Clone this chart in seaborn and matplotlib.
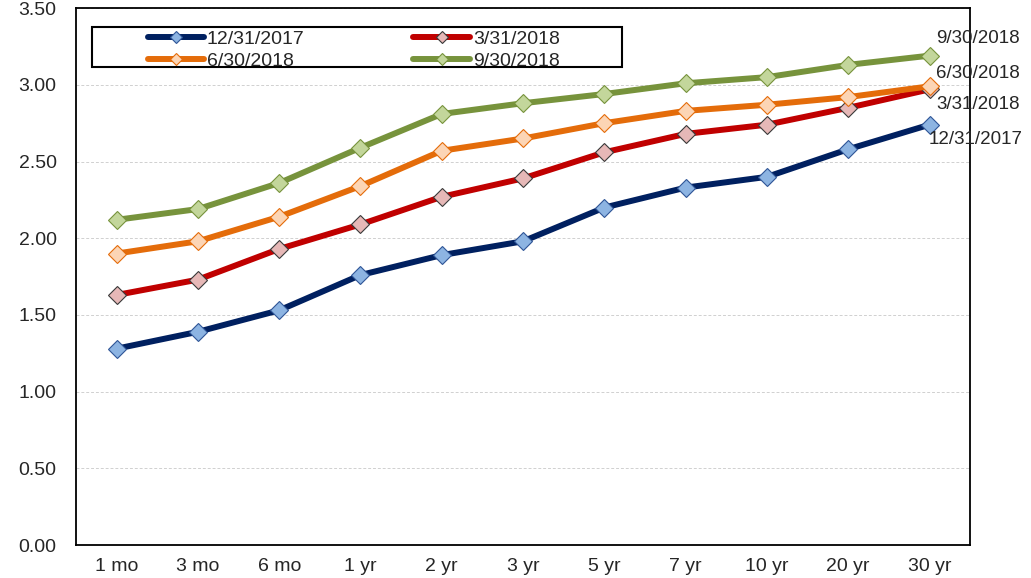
import numpy as np
import pandas as pd
import seaborn as sns
import matplotlib.pyplot as plt
from matplotlib.patches import Rectangle

tenors = ["1 mo", "3 mo", "6 mo", "1 yr", "2 yr", "3 yr", "5 yr", "7 yr", "10 yr", "20 yr", "30 yr"]

dec_2017 = [1.28, 1.39, 1.53, 1.76, 1.89, 1.98, 2.20, 2.33, 2.40, 2.58, 2.74]
mar_2018 = [1.63, 1.73, 1.93, 2.09, 2.27, 2.39, 2.56, 2.68, 2.74, 2.85, 2.97]
jun_2018 = [1.90, 1.98, 2.14, 2.34, 2.57, 2.65, 2.75, 2.83, 2.87, 2.92, 2.99]
sep_2018 = [2.12, 2.19, 2.36, 2.59, 2.81, 2.88, 2.94, 3.01, 3.05, 3.13, 3.19]

series_names = ["12/31/2017", "3/31/2018", "6/30/2018", "9/30/2018"]
series_vals = [dec_2017, mar_2018, jun_2018, sep_2018]

line_colors = ["#002060", "#C00000", "#E46C0A", "#77933C"]
face_colors = ["#8DB4E2", "#E6B8B7", "#FCD5B5", "#C3D69B"]
edge_colors = ["#2F5597", "#3A3A3A", "#E46C0A", "#77933C"]

sns.set_style("white")
plt.rcParams["font.family"] = ["Liberation Sans", "DejaVu Sans"]
plt.rcParams["font.size"] = 14

fig = plt.figure(figsize=(10.31, 5.78), dpi=100)
ax = fig.add_axes([0.0737, 0.057, 0.941 - 0.0737, 0.986 - 0.057])

for name, vals, lc, fc, ec in zip(series_names, series_vals, line_colors, face_colors, edge_colors):
    df = pd.DataFrame({"tenor": tenors, "yield": vals})
    sns.lineplot(data=df, x="tenor", y="yield", ax=ax, color=lc, linewidth=4.3,
                 marker="D", markersize=9.5, markerfacecolor=fc, markeredgecolor=ec,
                 markeredgewidth=0.8, legend=False, sort=False)

# end-of-curve labels
offsets = {"9/30/2018": (5, 12), "6/30/2018": (5, 9.5), "3/31/2018": (5, -11), "12/31/2017": (-1, -10.5)}
for name, vals in zip(series_names, series_vals):
    ax.annotate(name, xy=(len(tenors) - 1, vals[-1]), xytext=offsets[name],
                textcoords="offset points", ha="left", va="center",
                fontsize=13.5, annotation_clip=False)

ax.set_xlim(-0.5, len(tenors) - 0.5)
ax.set_ylim(0, 3.5)
ax.set_yticks(np.arange(0, 3.51, 0.5))
ax.set_yticklabels([f"{v:.2f}" for v in np.arange(0, 3.51, 0.5)])
ax.set_xticks(range(len(tenors)))
ax.set_xticklabels(tenors)
ax.set_xticks(np.arange(-0.5, len(tenors), 1.0), minor=True)
ax.tick_params(axis="x", which="major", length=0, pad=9, labelsize=14)
ax.tick_params(axis="x", which="minor", length=6, width=1, direction="out", color="black")
ax.tick_params(axis="y", length=4, width=1, direction="out", color="black", pad=10, labelsize=14)
ax.set_xlabel("")
ax.set_ylabel("")
ax.yaxis.grid(True, linestyle=(0, (3, 2)), color="#D0D0D0", linewidth=0.7)
ax.set_axisbelow(True)
for sp in ax.spines.values():
    sp.set_visible(True)
    sp.set_color("black")
    sp.set_linewidth(1.3)

# legend box
ax.add_patch(Rectangle((0.018, 0.89), 0.593, 0.075, transform=ax.transAxes,
                       fill=False, edgecolor="black", linewidth=1.5, zorder=5))
handles = ax.get_lines()[:4]
order = [0, 2, 1, 3]
leg = ax.legend([handles[i] for i in order], [series_names[i] for i in order],
                ncol=2, loc="upper left", bbox_to_anchor=(0.08, 0.958), frameon=False,
                handlelength=2.9, handletextpad=0.15, columnspacing=5.6,
                labelspacing=0.2, borderpad=0, borderaxespad=0, fontsize=14,
                markerscale=0.6)

fig.savefig("out.png", dpi=100)
